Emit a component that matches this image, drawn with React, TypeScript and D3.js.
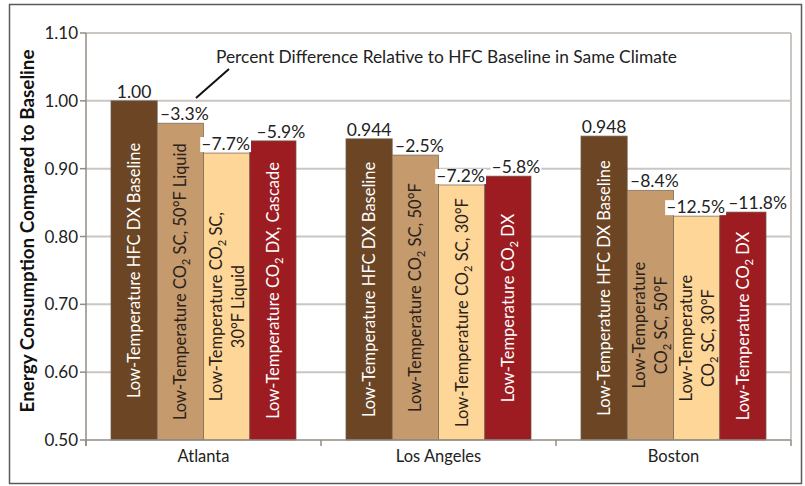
import React, { useRef, useEffect } from "react";
import * as d3 from "d3";

const cities = ["Atlanta", "Los Angeles", "Boston"];
const systems = ["hfcBaseline", "co2Sc50", "co2Sc30", "co2Dx"];

const atlantaValues = [1.0, 0.967, 0.923, 0.941];
const losAngelesValues = [0.944, 0.92, 0.876, 0.889];
const bostonValues = [0.948, 0.868, 0.83, 0.836];

const atlantaLabels = ["1.00", "\u20133.3%", "\u20137.7%", "\u20135.9%"];
const losAngelesLabels = ["0.944", "\u20132.5%", "\u20137.2%", "\u20135.8%"];
const bostonLabels = ["0.948", "\u20138.4%", "\u201312.5%", "\u201311.8%"];

// "_2" marks a subscript 2
const atlantaNames = [
  ["Low-Temperature HFC DX Baseline"],
  ["Low-Temperature CO_2 SC, 50\u00b0F Liquid"],
  ["Low-Temperature CO_2 SC,", "30\u00b0F Liquid"],
  ["Low-Temperature CO_2 DX, Cascade"],
];
const losAngelesNames = [
  ["Low-Temperature HFC DX Baseline"],
  ["Low-Temperature CO_2 SC, 50\u00b0F"],
  ["Low-Temperature CO_2 SC, 30\u00b0F"],
  ["Low-Temperature CO_2 DX"],
];
const bostonNames = [
  ["Low-Temperature HFC DX Baseline"],
  ["Low-Temperature", "CO_2 SC, 50\u00b0F"],
  ["Low-Temperature", "CO_2 SC, 30\u00b0F"],
  ["Low-Temperature CO_2 DX"],
];

const yTicks = [0.5, 0.6, 0.7, 0.8, 0.9, 1.0, 1.1];

const barColors = ["#6b4524", "#c59a6d", "#fed698", "#9c1c22"];
const nameColors = ["#ffffff", "#2a2119", "#2a2119", "#ffffff"];

const FONT = "Lato, 'Open Sans', sans-serif";

// rough Lato advance widths (em) for the value labels
const charWidth = (c: string) =>
  c === "." ? 0.25 : c === "%" ? 0.83 : c === "\u2013" ? 0.55 : 0.58;
const labelWidth = (s: string, size: number) =>
  s.split("").reduce((a, c) => a + charWidth(c), 0) * size;

const App: React.FC = () => {
  const svg = useRef<SVGSVGElement>(null);
  const width = 805;
  const height = 486;
  const plot = { left: 86, right: 791, top: 33, bottom: 440 };

  useEffect(() => {
    document.body.style.margin = "0";
    const s = d3.select(svg.current);
    s.selectAll("*").remove();
    s.attr("width", width).attr("height", height);

    const rows = cities.map((city, i) => ({
      city,
      values: [atlantaValues, losAngelesValues, bostonValues][i],
      labels: [atlantaLabels, losAngelesLabels, bostonLabels][i],
      names: [atlantaNames, losAngelesNames, bostonNames][i],
    }));

    const y = d3.scaleLinear().domain([0.5, 1.1]).range([plot.bottom, plot.top]);
    const x0 = d3.scaleBand<string>().domain(cities).range([plot.left, plot.right]);
    const x1 = d3
      .scaleBand<string>()
      .domain(systems)
      .range([0, x0.bandwidth()])
      .paddingOuter(0.54);

    s.append("rect")
      .attr("x", 9.5)
      .attr("y", 4.5)
      .attr("width", 792)
      .attr("height", 479)
      .attr("fill", "#fff")
      .attr("stroke", "#5a5a5a")
      .attr("stroke-width", 1.5);

    // grid
    s.append("g")
      .selectAll("line")
      .data(yTicks.filter((t) => t > 0.5))
      .join("line")
      .attr("x1", plot.left)
      .attr("x2", plot.right)
      .attr("y1", (d) => y(d))
      .attr("y2", (d) => y(d))
      .attr("stroke", "#cbc6c2")
      .attr("stroke-width", 2);

    s.append("line")
      .attr("x1", plot.right)
      .attr("x2", plot.right)
      .attr("y1", plot.top)
      .attr("y2", plot.bottom)
      .attr("stroke", "#cbc6c2")
      .attr("stroke-width", 2);

    // y axis
    const ya = s.append("g");
    ya.append("line")
      .attr("x1", plot.left)
      .attr("x2", plot.left)
      .attr("y1", plot.top)
      .attr("y2", plot.bottom + 6)
      .attr("stroke", "#938b85")
      .attr("stroke-width", 1.5);
    ya.selectAll("line.tick")
      .data(yTicks)
      .join("line")
      .attr("class", "tick")
      .attr("x1", plot.left - 6)
      .attr("x2", plot.left)
      .attr("y1", (d) => y(d))
      .attr("y2", (d) => y(d))
      .attr("stroke", "#938b85")
      .attr("stroke-width", 1.5);
    ya.selectAll("text")
      .data(yTicks)
      .join("text")
      .attr("x", plot.left - 8)
      .attr("y", (d) => y(d) + 6)
      .attr("text-anchor", "end")
      .attr("font-family", FONT)
      .attr("font-size", 17)
      .attr("fill", "#222")
      .text((d) => d3.format(".2f")(d));

    s.append("text")
      .attr("transform", `translate(34, 231) rotate(-90)`)
      .attr("text-anchor", "middle")
      .attr("font-family", FONT)
      .attr("font-weight", 700)
      .attr("font-size", 18)
      .attr("textLength", 363)
      .attr("lengthAdjust", "spacingAndGlyphs")
      .attr("fill", "#111")
      .text("Energy Consumption Compared to Baseline");

    // bars
    const groups = s
      .append("g")
      .selectAll("g")
      .data(rows)
      .join("g")
      .attr("transform", (d) => `translate(${x0(d.city)},0)`);

    groups
      .selectAll("rect")
      .data((d) => d.values.map((v, i) => ({ v, i })))
      .join("rect")
      .attr("x", (d) => x1(systems[d.i])!)
      .attr("y", (d) => y(d.v))
      .attr("width", x1.bandwidth())
      .attr("height", (d) => plot.bottom - y(d.v))
      .attr("fill", (d) => barColors[d.i])
      .attr("stroke", "#6e5f50")
      .attr("stroke-opacity", 0.7)
      .attr("stroke-width", 1);

    // x axis
    const xa = s.append("g");
    xa.append("line")
      .attr("x1", plot.left)
      .attr("x2", plot.right)
      .attr("y1", plot.bottom)
      .attr("y2", plot.bottom)
      .attr("stroke", "#938b85")
      .attr("stroke-width", 1.5);
    xa.selectAll("line.tick")
      .data([...cities.map((c) => x0(c)!), plot.right])
      .join("line")
      .attr("class", "tick")
      .attr("x1", (d) => d)
      .attr("x2", (d) => d)
      .attr("y1", plot.bottom)
      .attr("y2", plot.bottom + 6)
      .attr("stroke", "#938b85")
      .attr("stroke-width", 1.5);
    xa.selectAll("text")
      .data(cities)
      .join("text")
      .attr("x", (d) => x0(d)! + x0.bandwidth() / 2)
      .attr("y", 462)
      .attr("text-anchor", "middle")
      .attr("font-family", FONT)
      .attr("font-size", 16.5)
      .attr("fill", "#222")
      .text((d) => d);

    // rotated names inside bars
    const fs = 16.5;
    const gap = 22;
    rows.forEach((row) => {
      row.names.forEach((lines, i) => {
        const cx = x0(row.city)! + x1(systems[i])! + x1.bandwidth() / 2;
        const cy = (y(row.values[i]) + plot.bottom) / 2 + (lines.length > 1 ? 10 : 0);
        const g = s
          .append("g")
          .attr("transform", `translate(${cx},${cy}) rotate(-90)`);
        lines.forEach((line, li) => {
          const off = (li - (lines.length - 1) / 2) * gap + fs * 0.36;
          const t = g
            .append("text")
            .attr("y", off)
            .attr("text-anchor", "middle")
            .attr("font-family", FONT)
            .attr("font-size", fs)
            .attr("fill", nameColors[i]);
          const parts = line.split("_2");
          parts.forEach((p, pi) => {
            t.append("tspan").text(p).attr("dy", pi > 0 ? -4 : null);
            if (pi < parts.length - 1) {
              t.append("tspan").text("2").attr("dy", 4).attr("font-size", fs * 0.68);
            }
          });
        });
      });
    });

    // value labels with white boxes, nudged right when they would collide
    const vfs = 17.5;
    rows.forEach((row) => {
      let prevRight = -Infinity;
      let prevTop = -Infinity;
      row.labels.forEach((lab, i) => {
        const shift = [0, 4, -1, 8][i];
        const center = x0(row.city)! + x1(systems[i])! + x1.bandwidth() / 2 + shift;
        const top = y(row.values[i]);
        const w = labelWidth(lab, vfs);
        let left = center - w / 2;
        if (Math.abs(top - prevTop) < 16 && left < prevRight + 3) left = prevRight + 3;
        if (left + w > plot.right - 3) left = plot.right - 3 - w;
        prevRight = left + w;
        prevTop = top;
        const g = s.append("g");
        if (i > 0) {
          g.append("rect")
            .attr("fill", "#fff")
            .attr("x", left - 1)
            .attr("y", top - 16)
            .attr("width", w + 2)
            .attr("height", 15);
        }
        g.append("text")
          .attr("x", left + w / 2)
          .attr("y", top - 3)
          .attr("text-anchor", "middle")
          .attr("font-family", FONT)
          .attr("font-size", vfs)
          .attr("fill", "#222")
          .text(lab);
      });
    });

    // annotation
    s.append("line")
      .attr("x1", 196)
      .attr("y1", 98)
      .attr("x2", 229)
      .attr("y2", 69)
      .attr("stroke", "#111")
      .attr("stroke-width", 2);
    s.append("text")
      .attr("x", 216)
      .attr("y", 63)
      .attr("font-family", FONT)
      .attr("font-size", 17)
      .attr("textLength", 461)
      .attr("lengthAdjust", "spacingAndGlyphs")
      .attr("fill", "#222")
      .text("Percent Difference Relative to HFC Baseline in Same Climate");
  });

  return <svg ref={svg} style={{ display: "block" }}></svg>;
};

export default App;
